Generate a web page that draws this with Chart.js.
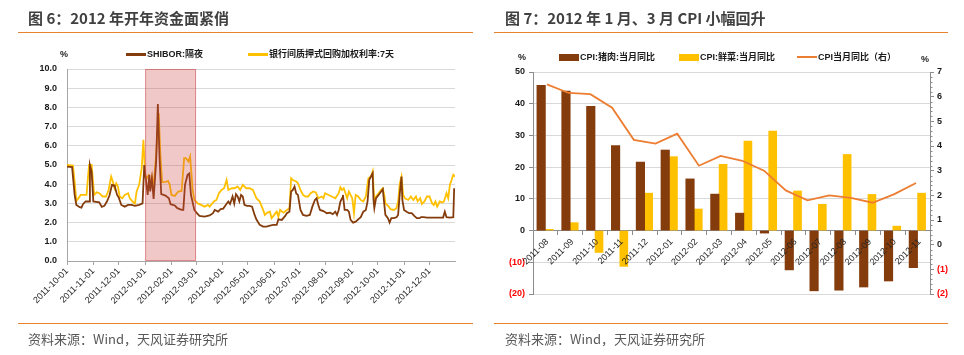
<!DOCTYPE html>
<html><head><meta charset="utf-8">
<script src="https://cdn.jsdelivr.net/npm/chart.js@4"></script>
<style>
html,body{margin:0;padding:0;background:#fff;width:964px;height:355px;overflow:hidden;position:relative;font-family:'Liberation Sans','Noto Sans CJK SC',sans-serif;}
.abs{position:absolute;white-space:nowrap;}
.title{font-family:'Noto Sans CJK SC',sans-serif;font-weight:bold;font-size:15px;color:#404040;line-height:20px;}
.rule{position:absolute;height:1px;background:#E8822E;}
.src{font-family:'Noto Sans CJK SC',sans-serif;font-size:13px;color:#595959;line-height:18px;}
.leg{font-size:9px;font-weight:bold;color:#1a1a1a;line-height:12px;}
.sw{position:absolute;}
canvas{position:absolute;top:0;}
</style></head>
<body>
<canvas id="c1" width="482" height="355" style="left:0"></canvas>
<canvas id="c2" width="482" height="355" style="left:482px"></canvas>

<div class="abs title" style="left:28px;top:8px">图 6：2012 年开年资金面紧俏</div>
<div class="rule" style="left:18px;top:32px;width:455px"></div>
<div class="abs leg" style="left:60px;top:48px">%</div>
<div class="sw" style="left:126px;top:53px;width:20px;height:2.5px;background:#843C0C"></div>
<div class="abs leg" style="left:147px;top:48px">SHIBOR:隔夜</div>
<div class="sw" style="left:248px;top:53px;width:20px;height:2.5px;background:#FFC000"></div>
<div class="abs leg" style="left:269px;top:48px">银行间质押式回购加权利率:7天</div>
<div class="rule" style="left:18px;top:323px;width:455px"></div>
<div class="abs src" style="left:28px;top:330px">资料来源：Wind，天风证券研究所</div>

<div class="abs title" style="left:505px;top:8px">图 7：2012 年 1 月、3 月 CPI 小幅回升</div>
<div class="rule" style="left:494px;top:32px;width:454px"></div>
<div class="abs leg" style="left:518px;top:51px">%</div>
<div class="abs leg" style="left:921px;top:53px">%</div>
<div class="sw" style="left:559px;top:53.5px;width:20px;height:7px;background:#843C0C"></div>
<div class="abs leg" style="left:580px;top:51px">CPI:猪肉:当月同比</div>
<div class="sw" style="left:679px;top:53.5px;width:20px;height:7px;background:#FFC000"></div>
<div class="abs leg" style="left:700px;top:51px">CPI:鲜菜:当月同比</div>
<div class="sw" style="left:797px;top:56px;width:20px;height:2px;background:#ED7D31"></div>
<div class="abs leg" style="left:818px;top:51px">CPI当月同比（右）</div>
<div class="rule" style="left:494px;top:323px;width:454px"></div>
<div class="abs src" style="left:505px;top:330px">资料来源：Wind，天风证券研究所</div>

<script>
// ---------- Figure 6 data ----------
const xStart = '2011-10-01';
const xEnd = '2012-12-31';
const monthTicks = ['2011-10-01','2011-11-01','2011-12-01','2012-01-01','2012-02-01','2012-03-01','2012-04-01','2012-05-01','2012-06-01','2012-07-01','2012-08-01','2012-09-01','2012-10-01','2012-11-01','2012-12-01'];
const shadeRange = ['2012-01-01','2012-03-01'];

const shiborDates = [
'2011-10-01','2011-10-07','2011-10-10','2011-10-12','2011-10-16','2011-10-18','2011-10-20','2011-10-23','2011-10-27','2011-10-28','2011-10-30',
'2011-11-01','2011-11-08','2011-11-11','2011-11-14','2011-11-17','2011-11-20','2011-11-23','2011-11-26','2011-11-29',
'2011-12-01','2011-12-04','2011-12-08','2011-12-12','2011-12-16','2011-12-20','2011-12-25','2011-12-29','2011-12-31',
'2012-01-02','2012-01-04','2012-01-06','2012-01-07','2012-01-09','2012-01-11','2012-01-14','2012-01-16','2012-01-18','2012-01-20','2012-01-25','2012-01-29','2012-01-31',
'2012-02-05','2012-02-08','2012-02-13','2012-02-15','2012-02-17','2012-02-20','2012-02-22','2012-02-24','2012-02-28',
'2012-03-02','2012-03-05','2012-03-11','2012-03-17','2012-03-21','2012-03-23','2012-03-27','2012-03-30',
'2012-04-02','2012-04-05','2012-04-08','2012-04-10','2012-04-13','2012-04-15','2012-04-17','2012-04-19','2012-04-21','2012-04-23','2012-04-25','2012-04-27','2012-04-30',
'2012-05-03','2012-05-06','2012-05-09','2012-05-11','2012-05-15','2012-05-19','2012-05-23','2012-05-27','2012-05-31',
'2012-06-04','2012-06-06','2012-06-10','2012-06-14','2012-06-16','2012-06-19','2012-06-21','2012-06-23','2012-06-25','2012-06-27','2012-06-29',
'2012-07-02','2012-07-05','2012-07-09','2012-07-13','2012-07-16','2012-07-19','2012-07-21','2012-07-23','2012-07-25','2012-07-29',
'2012-08-02','2012-08-06','2012-08-09','2012-08-12','2012-08-14','2012-08-16','2012-08-18','2012-08-20','2012-08-21','2012-08-23','2012-08-26','2012-08-28','2012-08-30',
'2012-09-02','2012-09-05','2012-09-08','2012-09-11','2012-09-14','2012-09-17','2012-09-19','2012-09-21','2012-09-23','2012-09-25','2012-09-26','2012-09-27','2012-09-29',
'2012-10-02','2012-10-05','2012-10-07','2012-10-08','2012-10-10','2012-10-13','2012-10-15','2012-10-17','2012-10-20','2012-10-23','2012-10-25','2012-10-27','2012-10-29','2012-10-30',
'2012-11-01','2012-11-04','2012-11-07','2012-11-10','2012-11-13','2012-11-16','2012-11-19','2012-11-21','2012-11-24','2012-11-28',
'2012-12-02','2012-12-06','2012-12-10','2012-12-14','2012-12-17','2012-12-19','2012-12-21','2012-12-25','2012-12-29','2012-12-30'];
const shiborValues = [
4.92,4.89,3.44,2.92,2.80,2.78,2.97,3.10,3.10,5.00,4.66,
3.10,3.06,2.82,2.87,3.10,3.41,3.97,3.93,3.44,
3.30,2.92,2.83,2.92,2.92,2.87,2.92,3.00,5.00,
4.20,3.44,4.49,3.62,4.30,3.23,5.18,8.17,5.36,3.48,3.41,3.27,2.96,
2.89,2.75,2.66,2.66,3.97,4.49,4.56,3.44,2.66,
2.49,2.35,2.31,2.37,2.49,2.66,2.57,2.70,
2.73,2.92,3.10,2.97,3.36,2.99,3.48,3.36,3.10,3.44,3.36,2.92,2.87,
2.87,2.83,2.40,2.17,1.88,1.79,1.79,1.84,1.88,
1.88,2.17,2.14,2.35,2.49,2.57,3.62,3.70,3.88,3.52,3.44,
2.66,2.40,2.35,2.40,2.83,3.18,3.27,2.92,2.66,2.60,
2.49,2.52,2.44,2.57,2.40,2.66,3.10,3.27,3.44,2.66,2.66,2.57,2.14,
2.00,2.05,2.17,2.28,2.57,2.66,3.10,4.22,4.40,4.57,3.18,2.75,3.27,
3.44,3.62,3.74,3.27,2.40,2.23,2.00,2.23,2.23,2.28,2.40,3.53,4.40,3.18,
2.66,2.57,2.49,2.49,2.35,2.23,2.23,2.28,2.28,2.26,
2.26,2.26,2.26,2.26,2.26,2.57,2.28,2.26,2.28,3.79];

const repoDates = [
'2011-10-01','2011-10-08','2011-10-10','2011-10-12','2011-10-15','2011-10-17','2011-10-21','2011-10-24','2011-10-25','2011-10-27','2011-10-30','2011-10-31',
'2011-11-02','2011-11-05','2011-11-08','2011-11-12','2011-11-16','2011-11-19','2011-11-22','2011-11-24','2011-11-26','2011-11-28','2011-11-30',
'2011-12-02','2011-12-05','2011-12-08','2011-12-12','2011-12-14','2011-12-18','2011-12-20','2011-12-22','2011-12-25','2011-12-28','2011-12-30',
'2012-01-01','2012-01-03','2012-01-05','2012-01-07','2012-01-09','2012-01-11','2012-01-14','2012-01-17','2012-01-19','2012-01-21','2012-01-26','2012-01-28','2012-01-30',
'2012-02-01','2012-02-05','2012-02-09','2012-02-13','2012-02-16','2012-02-18','2012-02-21','2012-02-23','2012-02-25','2012-02-26','2012-02-28',
'2012-03-03','2012-03-07','2012-03-11','2012-03-15','2012-03-17','2012-03-22','2012-03-25','2012-03-28','2012-03-31',
'2012-04-03','2012-04-06','2012-04-08','2012-04-12','2012-04-15','2012-04-19','2012-04-22','2012-04-25','2012-04-29',
'2012-05-03','2012-05-07','2012-05-11','2012-05-15','2012-05-19','2012-05-21','2012-05-24','2012-05-27','2012-05-29',
'2012-06-01','2012-06-04','2012-06-06','2012-06-08','2012-06-12','2012-06-16','2012-06-19','2012-06-21','2012-06-23','2012-06-27','2012-06-29',
'2012-07-02','2012-07-05','2012-07-08','2012-07-11','2012-07-14','2012-07-17','2012-07-20','2012-07-23','2012-07-27','2012-07-29','2012-07-31',
'2012-08-04','2012-08-08','2012-08-12','2012-08-16','2012-08-18','2012-08-20','2012-08-22','2012-08-24','2012-08-26','2012-08-28','2012-08-30',
'2012-09-01','2012-09-03','2012-09-05','2012-09-08','2012-09-11','2012-09-14','2012-09-17','2012-09-20','2012-09-23','2012-09-25','2012-09-27','2012-09-29',
'2012-10-02','2012-10-05','2012-10-07','2012-10-09','2012-10-10','2012-10-14','2012-10-16','2012-10-20','2012-10-23','2012-10-25','2012-10-27','2012-10-29','2012-10-31',
'2012-11-02','2012-11-06','2012-11-09','2012-11-12','2012-11-15','2012-11-17','2012-11-20','2012-11-22','2012-11-25','2012-11-28',
'2012-12-01','2012-12-04','2012-12-06','2012-12-08','2012-12-10','2012-12-13','2012-12-16','2012-12-18','2012-12-21','2012-12-23','2012-12-25','2012-12-27','2012-12-29','2012-12-31'];
const repoValues = [
5.00,4.97,4.14,3.13,3.30,3.44,3.44,3.44,3.97,5.00,5.00,4.49,
3.44,3.58,3.53,3.36,3.36,3.70,4.40,4.14,3.79,4.05,3.88,
3.36,3.27,3.44,3.53,3.27,3.06,3.00,3.62,3.97,4.83,6.31,
4.49,4.30,4.45,3.97,4.40,3.88,5.53,7.70,5.53,4.10,4.14,4.17,3.97,
3.44,3.39,3.62,3.65,5.36,5.36,5.18,5.44,4.30,3.70,3.18,
3.00,2.92,2.83,2.92,2.83,3.10,3.18,3.53,3.70,
3.79,4.22,3.70,3.79,3.79,3.88,3.70,3.97,3.79,
3.79,3.70,3.27,3.10,2.66,2.40,2.52,2.57,2.23,
2.40,2.57,2.31,2.66,2.52,2.66,2.75,4.31,4.22,4.14,4.05,
3.70,3.44,3.36,3.36,3.53,3.62,3.57,3.27,3.36,3.27,3.53,
3.44,3.36,3.27,3.53,3.84,3.70,3.79,3.53,3.27,3.62,3.44,
3.27,2.49,3.44,3.36,3.18,3.10,3.36,4.31,4.40,4.66,3.10,3.36,
3.53,3.70,3.79,3.36,3.00,2.83,2.70,2.66,2.75,3.10,4.05,4.40,3.44,
3.27,3.18,3.36,3.18,3.36,3.10,3.27,2.97,3.10,3.36,
3.36,3.00,2.92,3.10,2.83,3.10,3.05,3.10,3.53,3.27,3.97,4.22,4.49,4.40];

// ---------- Figure 7 data ----------
const months = ['2011-08','2011-09','2011-10','2011-11','2011-12','2012-01','2012-02','2012-03','2012-04','2012-05','2012-06','2012-07','2012-08','2012-09','2012-10','2012-11'];
const porkYoY = [45.8,44.0,39.2,26.8,21.6,25.4,16.3,11.5,5.5,-0.8,-12.4,-19.0,-18.8,-17.8,-15.9,-11.7];
const vegYoY = [0.4,2.5,-6.9,-11.3,11.8,23.3,6.8,20.9,28.2,31.4,12.5,8.3,24.0,11.4,1.4,11.8];
const cpiMonths = ['2011-07','2011-08','2011-09','2011-10','2011-11','2011-12','2012-01','2012-02','2012-03','2012-04','2012-05','2012-06','2012-07','2012-08','2012-09','2012-10','2012-11','2012-12'];
const cpiYoY = [6.5,6.15,6.1,5.55,4.25,4.1,4.5,3.2,3.6,3.4,3.0,2.2,1.8,2.0,1.9,1.7,2.05,2.5];

// ---------- helpers ----------
const toDay = s => { const [y,m,d] = s.split('-').map(Number); const [y0,m0,d0] = xStart.split('-').map(Number); return (Date.UTC(y,m-1,d) - Date.UTC(y0,m0-1,d0)) / 86400000; };
const monthPos = s => { const [y,m] = s.split('-').map(Number); const [y0,m0] = months[0].split('-').map(Number); return (y-y0)*12 + (m-m0); };

Chart.defaults.font.family = "'Liberation Sans','Noto Sans CJK SC',sans-serif";
const AX = '#a6a6a6';

const shadePlugin = {
  id: 'shade',
  afterDatasetsDraw(chart) {
    const {ctx, scales: {x, y}} = chart;
    const x0 = x.getPixelForValue(toDay(shadeRange[0]));
    const x1 = x.getPixelForValue(toDay(shadeRange[1]));
    const yt = y.getPixelForValue(y.max), yb = y.getPixelForValue(y.min);
    ctx.save();
    ctx.fillStyle = 'rgba(205,72,72,0.3)';
    ctx.fillRect(x0, yt, x1 - x0, yb - yt);
    ctx.strokeStyle = 'rgba(205,72,72,0.5)';
    ctx.lineWidth = 1;
    ctx.strokeRect(x0 + 0.5, yt + 0.5, x1 - x0 - 1, yb - yt - 1);
    ctx.restore();
  }
};

new Chart(document.getElementById('c1'), {
  type: 'line',
  data: { datasets: [
    { label: 'SHIBOR:隔夜', data: shiborDates.map((d, i) => ({x: toDay(d), y: shiborValues[i]})),
      borderColor: '#843C0C', borderWidth: 1.8, pointRadius: 0, tension: 0, order: 0 },
    { label: '银行间质押式回购加权利率:7天', data: repoDates.map((d, i) => ({x: toDay(d), y: repoValues[i]})),
      borderColor: '#FFC000', borderWidth: 1.8, pointRadius: 0, tension: 0, order: 1 }
  ]},
  options: {
    responsive: false, animation: false, devicePixelRatio: 1,
    layout: { padding: { top: 69, right: 27, left: 0, bottom: 0 } },
    plugins: { legend: { display: false }, tooltip: { enabled: false } },
    scales: {
      x: { type: 'linear', min: toDay(xStart), max: toDay(xEnd),
        afterBuildTicks: s => { s.ticks = monthTicks.map(t => ({ value: toDay(t) })); },
        afterFit: s => { s.height = 94; },
        grid: { drawOnChartArea: false, drawTicks: true, tickLength: 4, color: AX },
        border: { color: AX },
        ticks: { autoSkip: false, minRotation: 45, maxRotation: 45, font: { size: 9 }, color: '#262626', padding: 1,
          callback: (v, i) => monthTicks[i] } },
      y: { min: 0, max: 10, afterFit: s => { s.width = 67; },
        ticks: { stepSize: 1, callback: v => Number(v).toFixed(1), font: { size: 9, weight: 'bold' }, color: '#1a1a1a', padding: 10 },
        grid: { color: '#d9d9d9', drawTicks: false },
        border: { color: AX } }
    }
  },
  plugins: [shadePlugin]
});

const minorTicks = {
  id: 'minorTicks',
  afterDraw(chart) {
    const s = chart.scales.y1, ctx = chart.ctx;
    ctx.save(); ctx.strokeStyle = '#8c8c8c'; ctx.lineWidth = 1;
    for (let v = s.min; v <= s.max + 1e-9; v += 0.2) {
      if (Math.abs(v - Math.round(v)) < 1e-6) continue;
      const p = Math.round(s.getPixelForValue(v)) + 0.5;
      ctx.beginPath(); ctx.moveTo(s.left, p); ctx.lineTo(s.left + 2.5, p); ctx.stroke();
    }
    ctx.restore();
  }
};
const paren = v => v < 0 ? '(' + (-v) + ')' : String(v);
const negRed = c => c.tick.value < 0 ? '#FF0000' : '#1a1a1a';

new Chart(document.getElementById('c2'), {
  type: 'bar',
  data: { labels: months, datasets: [
    { type: 'line', label: 'CPI当月同比（右）', data: cpiMonths.map((m, i) => ({x: monthPos(m), y: cpiYoY[i]})),
      xAxisID: 'xl', yAxisID: 'y1', borderColor: '#ED7D31', borderWidth: 1.8, pointRadius: 0, tension: 0, order: 0 },
    { label: 'CPI:猪肉:当月同比', data: porkYoY, backgroundColor: '#843C0C', xAxisID: 'x', yAxisID: 'y',
      barThickness: 8.5, order: 1 },
    { label: 'CPI:鲜菜:当月同比', data: vegYoY, backgroundColor: '#FFC000', xAxisID: 'x', yAxisID: 'y',
      barThickness: 8, order: 2 }
  ]},
  options: {
    responsive: false, animation: false, devicePixelRatio: 1,
    layout: { padding: { top: 72, right: 0, left: 0, bottom: 61 } },
    plugins: { legend: { display: false }, tooltip: { enabled: false } },
    scales: {
      x: { type: 'category', position: { y: 0 }, offset: true,
        grid: { drawOnChartArea: false, offset: true, tickLength: 4, color: '#8c8c8c' },
        border: { color: '#8c8c8c' },
        ticks: { autoSkip: false, minRotation: 45, maxRotation: 45, font: { size: 9 }, color: '#262626', padding: 2, labelOffset: 2, z: 1 } },
      xl: { type: 'linear', display: false, min: -0.5, max: months.length - 0.5 },
      y: { position: 'left', min: -20, max: 50, afterFit: s => { s.width = 51; },
        ticks: { stepSize: 10, callback: paren, color: negRed, font: { size: 9, weight: 'bold' }, padding: 4 },
        grid: { color: '#d9d9d9', tickLength: 4, tickColor: '#8c8c8c' },
        border: { color: '#8c8c8c' } },
      y1: { position: 'right', min: -2, max: 7, afterFit: s => { s.width = 34; },
        ticks: { stepSize: 1, callback: paren, color: negRed, font: { size: 9, weight: 'bold' }, padding: 3 },
        grid: { drawOnChartArea: false, tickLength: 4, tickColor: '#8c8c8c' },
        border: { color: '#8c8c8c' } }
    }
  },
  plugins: [minorTicks]
});
</script>
</body></html>
